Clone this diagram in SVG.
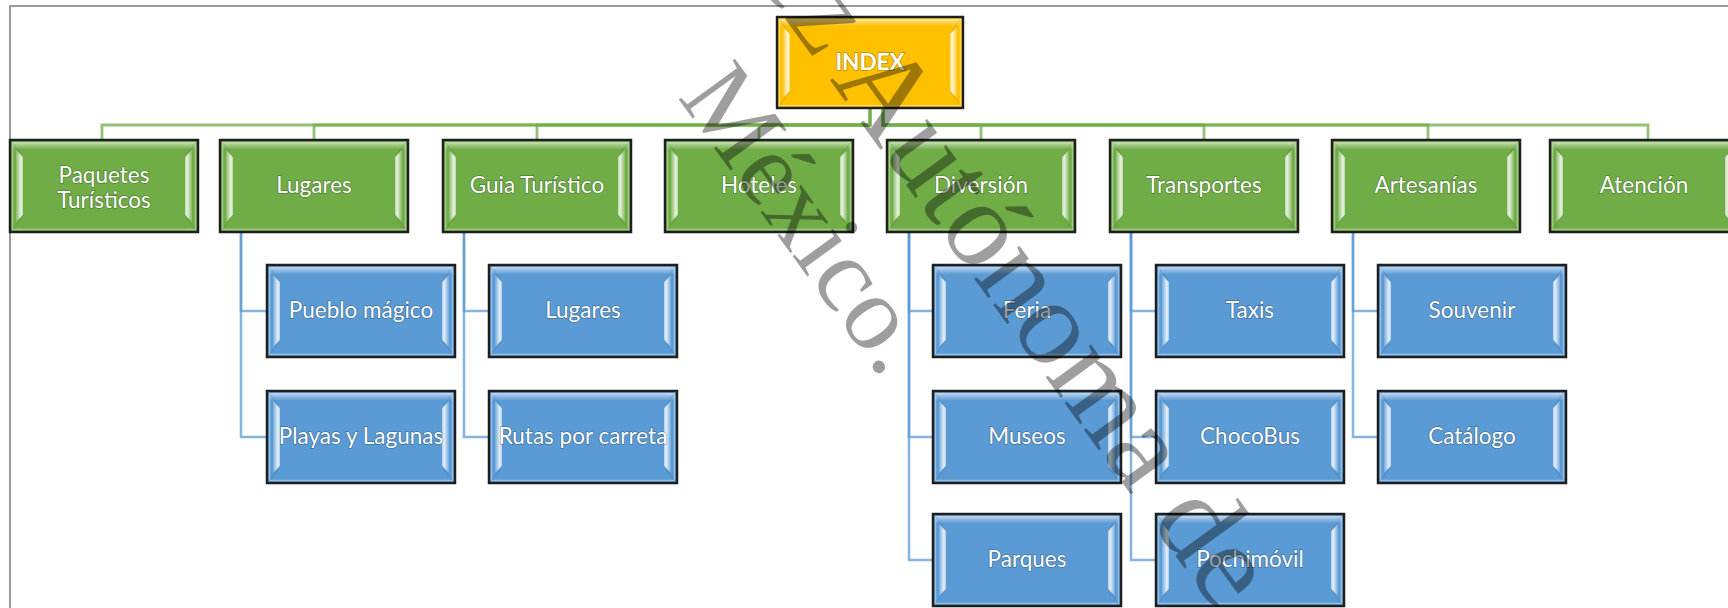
<svg xmlns="http://www.w3.org/2000/svg" xmlns:xlink="http://www.w3.org/1999/xlink" width="1728" height="608" viewBox="0 0 1728 608">
  <style>
    .green { color: #70AD47; }
    .blue { color: #5B9BD5; }
    .gold { color: #FFC000; }
    .lbl { font-family: Lato, "Liberation Sans", sans-serif; font-size: 22.5px; fill: #ffffff; text-anchor: middle;
           paint-order: stroke; stroke: #000000; stroke-opacity: 0.28; stroke-width: 1.6px; }
    .bold { font-weight: 700; }
    .cg { fill: none; stroke: #70AD47; stroke-width: 2.8; stroke-opacity: 0.75; }
    .cb { fill: none; stroke: #5B9BD5; stroke-width: 2.5; stroke-opacity: 0.75; }
    .frame { fill: none; stroke: #7a7a7a; stroke-width: 1.5; }
    .mark { font-family: "Liberation Serif", "DejaVu Serif", serif; fill: #000000; fill-opacity: 0.38; }
  </style>
  <defs>
    <linearGradient id="topShine" x1="0" y1="0" x2="0" y2="1">
      <stop offset="0" stop-color="#ffffff" stop-opacity="0.55"/>
      <stop offset="1" stop-color="#ffffff" stop-opacity="0"/>
    </linearGradient>
    <linearGradient id="facetL" x1="0" y1="0" x2="1" y2="0">
      <stop offset="0" stop-color="#ffffff" stop-opacity="0.15"/>
      <stop offset="0.7" stop-color="#ffffff" stop-opacity="0.85"/>
      <stop offset="1" stop-color="#ffffff" stop-opacity="0.5"/>
    </linearGradient>
    <linearGradient id="facetR" x1="1" y1="0" x2="0" y2="0">
      <stop offset="0" stop-color="#ffffff" stop-opacity="0.15"/>
      <stop offset="0.7" stop-color="#ffffff" stop-opacity="0.85"/>
      <stop offset="1" stop-color="#ffffff" stop-opacity="0.5"/>
    </linearGradient>
    <!-- bevelled box, base colour taken from the CSS color of the <use> -->
    <symbol id="bevel" viewBox="0 0 188 92" overflow="visible">
      <rect x="0" y="0" width="188" height="92" fill="currentColor" stroke="#1e1e1e" stroke-width="2.5"/>
      <rect x="2.5" y="2.5" width="183" height="87" fill="none" stroke="#ffffff" stroke-opacity="0.35" stroke-width="1.5"/>
      <rect x="2.5" y="2.5" width="183" height="7" fill="url(#topShine)"/>
      <path d="M6,10 L13,17 L13,75 L6,82 Z" fill="url(#facetL)"/>
      <path d="M182,10 L175,17 L175,75 L182,82 Z" fill="url(#facetR)"/>
      <path d="M3,3 L13,17 M185,3 L175,17 M3,89 L13,75 M185,89 L175,75" stroke="#000000" stroke-opacity="0.12" stroke-width="1"/>
    </symbol>
  </defs>

  <rect width="1728" height="608" fill="#ffffff"/>
  <path class="frame" d="M10,608 V6 H1728"/>

  <!-- connectors -->
  <g id="connectors">
    <path class="cg" d="M870,108 V125 H102 V140"/>
    <path class="cg" d="M870,108 V125 H314 V140"/>
    <path class="cg" d="M870,108 V125 H537 V140"/>
    <path class="cg" d="M870,108 V125 H759 V140"/>
    <path class="cg" d="M883,108 V125 H981 V140"/>
    <path class="cg" d="M883,108 V125 H1204 V140"/>
    <path class="cg" d="M883,108 V125 H1428 V140"/>
    <path class="cg" d="M883,108 V125 H1648 V140"/>

    <path class="cb" d="M241,232 V311 H267"/>
    <path class="cb" d="M241,232 V437 H267"/>
    <path class="cb" d="M464,232 V311 H489"/>
    <path class="cb" d="M464,232 V437 H489"/>
    <path class="cb" d="M909,232 V311 H933"/>
    <path class="cb" d="M909,232 V437 H933"/>
    <path class="cb" d="M909,232 V560 H933"/>
    <path class="cb" d="M1131,232 V311 H1156"/>
    <path class="cb" d="M1131,232 V437 H1156"/>
    <path class="cb" d="M1131,232 V560 H1156"/>
    <path class="cb" d="M1353,232 V311 H1378"/>
    <path class="cb" d="M1353,232 V437 H1378"/>
  </g>

  <!-- root -->
  <g id="index">
    <use xlink:href="#bevel" href="#bevel" x="776" y="17" width="188" height="91" class="gold"/>
    <text class="lbl bold" x="870" y="70">INDEX</text>
  </g>

  <!-- first level -->
  <g id="paquetes">
    <use href="#bevel" x="10" y="140" width="188" height="92" class="green"/>
    <text class="lbl" x="104" y="183">Paquetes</text>
    <text class="lbl" x="104" y="208">Turísticos</text>
  </g>
  <g id="lugares">
    <use href="#bevel" x="220" y="140" width="188" height="92" class="green"/>
    <text class="lbl" x="314" y="193">Lugares</text>
  </g>
  <g id="guia">
    <use href="#bevel" x="443" y="140" width="188" height="92" class="green"/>
    <text class="lbl" x="537" y="193">Guia Turístico</text>
  </g>
  <g id="hoteles">
    <use href="#bevel" x="665" y="140" width="188" height="92" class="green"/>
    <text class="lbl" x="759" y="193">Hoteles</text>
  </g>
  <g id="diversion">
    <use href="#bevel" x="887" y="140" width="188" height="92" class="green"/>
    <text class="lbl" x="981" y="193">Diversión</text>
  </g>
  <g id="transportes">
    <use href="#bevel" x="1110" y="140" width="188" height="92" class="green"/>
    <text class="lbl" x="1204" y="193">Transportes</text>
  </g>
  <g id="artesanias">
    <use href="#bevel" x="1332" y="140" width="188" height="92" class="green"/>
    <text class="lbl" x="1426" y="193">Artesanías</text>
  </g>
  <g id="atencion">
    <use href="#bevel" x="1550" y="140" width="188" height="92" class="green"/>
    <text class="lbl" x="1644" y="193">Atención</text>
  </g>

  <!-- second level -->
  <g id="pueblo-magico">
    <use href="#bevel" x="267" y="265" width="188" height="92" class="blue"/>
    <text class="lbl" x="361" y="318">Pueblo mágico</text>
  </g>
  <g id="playas-lagunas">
    <use href="#bevel" x="267" y="391" width="188" height="92" class="blue"/>
    <text class="lbl" x="361" y="444">Playas y Lagunas</text>
  </g>
  <g id="guia-lugares">
    <use href="#bevel" x="489" y="265" width="188" height="92" class="blue"/>
    <text class="lbl" x="583" y="318">Lugares</text>
  </g>
  <g id="rutas">
    <use href="#bevel" x="489" y="391" width="188" height="92" class="blue"/>
    <text class="lbl" x="583" y="444">Rutas por carreta</text>
  </g>
  <g id="feria">
    <use href="#bevel" x="933" y="265" width="188" height="92" class="blue"/>
    <text class="lbl" x="1027" y="318">Feria</text>
  </g>
  <g id="museos">
    <use href="#bevel" x="933" y="391" width="188" height="92" class="blue"/>
    <text class="lbl" x="1027" y="444">Museos</text>
  </g>
  <g id="parques">
    <use href="#bevel" x="933" y="514" width="188" height="92" class="blue"/>
    <text class="lbl" x="1027" y="567">Parques</text>
  </g>
  <g id="taxis">
    <use href="#bevel" x="1156" y="265" width="188" height="92" class="blue"/>
    <text class="lbl" x="1250" y="318">Taxis</text>
  </g>
  <g id="chocobus">
    <use href="#bevel" x="1156" y="391" width="188" height="92" class="blue"/>
    <text class="lbl" x="1250" y="444">ChocoBus</text>
  </g>
  <g id="pochimovil">
    <use href="#bevel" x="1156" y="514" width="188" height="92" class="blue"/>
    <text class="lbl" x="1250" y="567">Pochimóvil</text>
  </g>
  <g id="souvenir">
    <use href="#bevel" x="1378" y="265" width="188" height="92" class="blue"/>
    <text class="lbl" x="1472" y="318">Souvenir</text>
  </g>
  <g id="catalogo">
    <use href="#bevel" x="1378" y="391" width="188" height="92" class="blue"/>
    <text class="lbl" x="1472" y="444">Catálogo</text>
  </g>

  <!-- diagonal watermark over the chart -->
  <g id="watermark">
    <text class="mark" font-size="122" transform="translate(821,22) rotate(54)" x="-81" y="27">ez Autónoma de</text>
    <text class="mark" font-size="106" transform="translate(677,97) rotate(54)" x="0" y="0">México.</text>
  </g>
</svg>
